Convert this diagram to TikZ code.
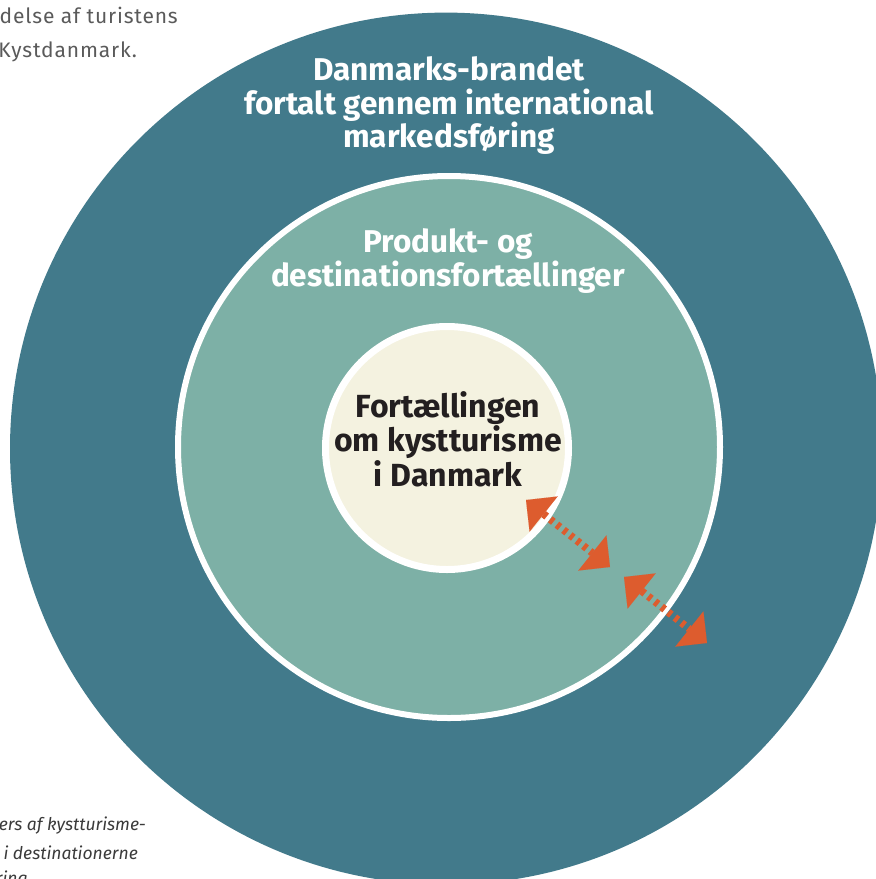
\documentclass[tikz,border=0pt]{standalone}
\usepackage{fontspec}
\setmainfont{Fira Sans}
\newfontfamily\bodyfont[LetterSpace=4]{Fira Sans}
\usetikzlibrary{arrows.meta}

\definecolor{brandteal}{HTML}{427A8B}
\definecolor{productteal}{HTML}{7DB0A6}
\definecolor{corecream}{HTML}{F4F2E0}
\definecolor{linkorange}{HTML}{DD5C2E}
\definecolor{coretext}{HTML}{231F20}
\definecolor{bodygray}{HTML}{5A5A5A}
\definecolor{notegray}{HTML}{3A3A3A}

\tikzset{
  ring/.style={circle, inner sep=0pt, outer sep=0pt},
  ringlabel/.style={align=center, inner sep=0pt},
  bodytext/.style={inner sep=0pt, text=bodygray, font=\bodyfont\fontsize{21}{25}\selectfont},
  notetext/.style={inner sep=0pt, text=notegray, font=\itshape\fontsize{17.5}{21}\selectfont},
  linkarrow/.style={draw=linkorange, line width=7.5pt, dash pattern=on 4pt off 4.5pt,
    {Triangle[width=45pt,length=22.5pt,line width=0.01pt,fill=linkorange]}-{Triangle[width=45pt,length=22.5pt,line width=0.01pt,fill=linkorange]}}
}

\begin{document}
\begin{tikzpicture}[x=1pt,y=-1pt]
  \useasboundingbox (0,0) rectangle (876,879);
  \clip (0,0) rectangle (876,879);

  % surrounding body text
  \node[bodytext, anchor=base east] (body1) at (178,23) {delse af turistens};
  \node[bodytext, anchor=base east] (body2) at (137,57) {Kystdanmark.};
  \node[notetext, anchor=base east] (note1) at (146,830) {ers af kystturisme-};
  \node[notetext, anchor=base east] (note2) at (138,859) {i destinationerne};
  \node[notetext, anchor=base east] (note3) at (28,884) {ring};

  % three nested story circles
  \node[ring, fill=brandteal, minimum size=872pt] (brand) at (446,448.6) {};
  \node[ring, fill=productteal, draw=white, line width=6pt, minimum size=542pt] (product) at (449,447) {};
  \node[ring, fill=corecream, draw=white, line width=7pt, minimum size=243pt] (core) at (447,448) {};

  % circle labels
  \node[ringlabel, text=white, font=\bfseries\fontsize{31.5}{33.5}\selectfont] (brandlabel) at (449,106)
    {Danmarks-brandet\\fortalt gennem international\\markedsføring};
  \node[ringlabel, text=white, font=\bfseries\fontsize{31.5}{33.5}\selectfont] (productlabel) at (448,261)
    {Produkt- og\\destinationsfortællinger};
  \node[ringlabel, text=coretext, font=\bfseries\fontsize{32}{34.5}\selectfont] (corelabel) at (448,439)
    {Fortællingen\\om kystturisme\\i Danmark};

  % two-way links between the circles
  \coordinate (linkAa) at (526,500);
  \coordinate (linkAb) at (610,567);
  \coordinate (linkBa) at (624,577);
  \coordinate (linkBb) at (707,643);
  \draw[linkarrow] (linkAa) -- (linkAb);
  \draw[linkarrow] (linkBa) -- (linkBb);
\end{tikzpicture}
\end{document}
